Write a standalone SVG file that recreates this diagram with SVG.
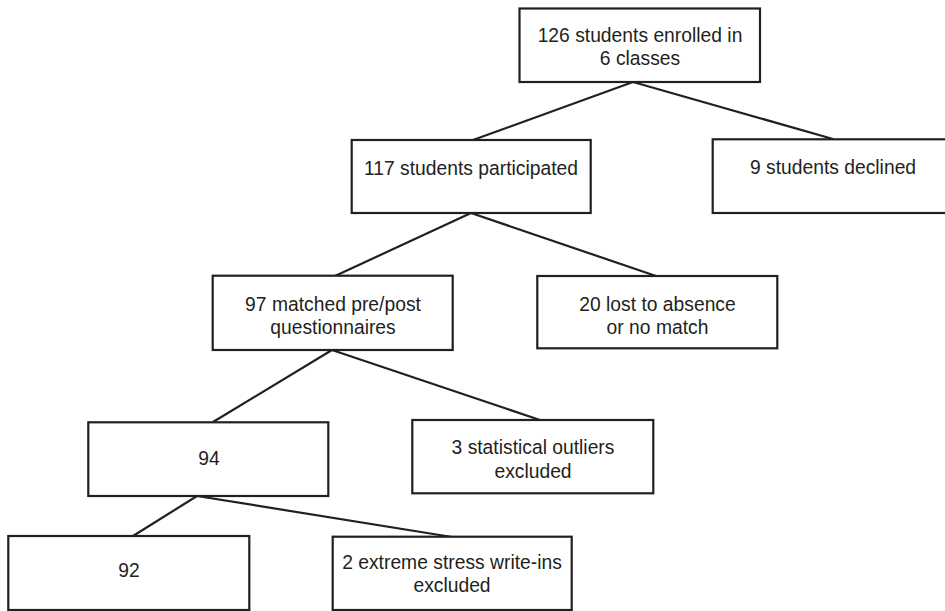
<svg xmlns="http://www.w3.org/2000/svg" width="945" height="611" viewBox="0 0 945 611">
<style>
.box{fill:#fff;stroke:#231f20;stroke-width:2.2}
.t{font-family:"Liberation Sans",Arial,sans-serif;font-size:19.3px;fill:#231f20;text-anchor:middle}
.c line{stroke:#231f20;stroke-width:2.2}
</style>
<rect width="945" height="611" fill="#fff"/>
<g class="c" id="connectors">
<line x1="633" y1="82" x2="473" y2="140"/>
<line x1="633" y1="82" x2="833" y2="139"/>
<line x1="471" y1="213" x2="335" y2="276"/>
<line x1="471" y1="213" x2="656" y2="276"/>
<line x1="332" y1="350" x2="213" y2="422"/>
<line x1="332" y1="350" x2="540" y2="420"/>
<line x1="197" y1="496" x2="133" y2="536"/>
<line x1="197" y1="496" x2="452" y2="537"/>
</g>
<g id="n1"><rect class="box" x="519.5" y="8.5" width="240.5" height="73.5"/><text class="t" x="640" y="41.5">126 students enrolled in</text><text class="t" x="640" y="65">6 classes</text></g>
<g id="n2"><rect class="box" x="351.7" y="140" width="239" height="73"/><text class="t" x="471" y="175">117 students participated</text></g>
<g id="n3"><rect class="box" x="712.7" y="139.3" width="245" height="73.7"/><text class="t" x="833" y="173.5">9 students declined</text></g>
<g id="n4"><rect class="box" x="212.7" y="275.7" width="240" height="74.3"/><text class="t" x="333" y="311">97 matched pre/post</text><text class="t" x="333" y="334">questionnaires</text></g>
<g id="n5"><rect class="box" x="537.3" y="276" width="240" height="72.3"/><text class="t" x="657.5" y="310.5">20 lost to absence</text><text class="t" x="657.5" y="333.5">or no match</text></g>
<g id="n6"><rect class="box" x="88.3" y="422.3" width="240" height="73.7"/><text class="t" x="209" y="465">94</text></g>
<g id="n7"><rect class="box" x="412.3" y="420" width="241" height="73.3"/><text class="t" x="533" y="454">3 statistical outliers</text><text class="t" x="533" y="477.5">excluded</text></g>
<g id="n8"><rect class="box" x="8.3" y="536" width="241" height="74"/><text class="t" x="129" y="576.7">92</text></g>
<g id="n9"><rect class="box" x="332.7" y="536.7" width="239" height="73.3"/><text class="t" x="452" y="568.5">2 extreme stress write-ins</text><text class="t" x="452" y="592">excluded</text></g>
</svg>
